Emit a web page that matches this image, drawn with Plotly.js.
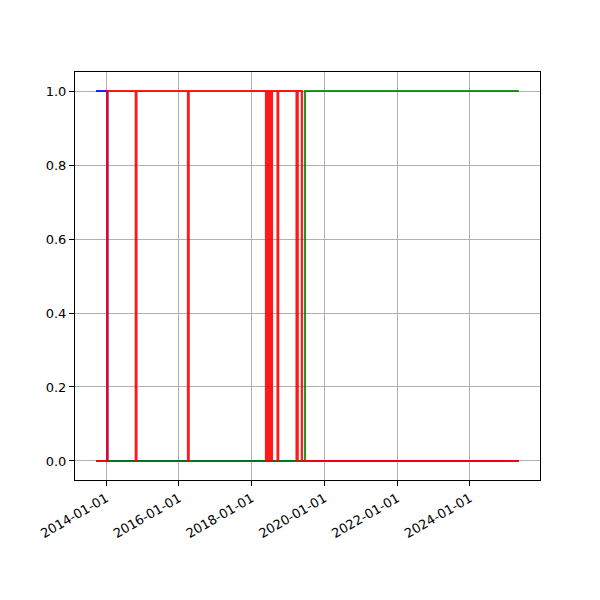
<!DOCTYPE html>
<html>
<head>
<meta charset="utf-8">
<script src="https://cdn.plot.ly/plotly-3.0.1.min.js"></script>
<style>html,body{margin:0;padding:0;background:#fff;}#chart{width:600px;height:600px;}</style>
</head>
<body>
<div id="chart"></div>
<script>
// Change-point dates (values hold until the next date)
const dates = [
  "2013-09-22", "2014-01-14",
  "2014-10-26", "2014-11-02",
  "2016-04-02", "2016-04-09",
  "2018-05-25", "2018-06-01", "2018-06-08", "2018-06-15", "2018-06-22", "2018-06-29",
  "2018-07-06", "2018-07-13", "2018-07-18", "2018-07-24",
  "2018-09-18", "2018-09-24",
  "2019-03-28", "2019-04-08",
  "2019-05-20", "2019-06-20",
  "2025-05-06"
];
const blueSeries  = [1,0, 0,0, 0,0, 0,0,0,0,0,0, 0,0,0,0, 0,0, 0,0, 0,0, 0];
const greenSeries = [0,0, 0,0, 0,0, 0,0,0,0,0,0, 0,0,0,0, 0,0, 0,0, 0,1, 1];
const redSeries   = [0,1, 0,1, 0,1, 0,1,0,1,0,1, 0,1,0,1, 0,1, 0,1, 0,0, 0];
const xTicks = ["2014-01-01","2016-01-01","2018-01-01","2020-01-01","2022-01-01","2024-01-01"];
const yTicks = [0, 0.2, 0.4, 0.6, 0.8, 1.0];

function tr(y, color, op) {
  return {x: dates, y: y, type: "scatter", mode: "lines",
          line: {color: color, width: 2.2, shape: "hv"}, opacity: op,
          hoverinfo: "skip", showlegend: false};
}
const data = [tr(blueSeries, "#0000ff", 0.85), tr(greenSeries, "#008000", 0.85), tr(redSeries, "#ff0000", 0.9)];

const axisCommon = {
  showline: true, mirror: true, linecolor: "#000", linewidth: 1,
  ticks: "outside", ticklen: 5, tickwidth: 1, tickcolor: "#000",
  showgrid: true, gridcolor: "#b0b0b0", gridwidth: 1, zeroline: false,
  tickfont: {family: "DejaVu Sans", size: 13, color: "#000"}
};
const layout = {
  width: 600, height: 600,
  margin: {l: 75, r: 60, t: 72, b: 120},
  paper_bgcolor: "#fff", plot_bgcolor: "#fff",
  xaxis: Object.assign({}, axisCommon, {
    type: "date", range: ["2013-02-23", "2025-12-04"],
    tickmode: "array", tickvals: xTicks, ticktext: xTicks, tickangle: -30
  }),
  yaxis: Object.assign({}, axisCommon, {
    range: [-0.0514, 1.0514], tickmode: "array", tickvals: yTicks,
    ticktext: yTicks.map(v => v.toFixed(1))
  })
};
Plotly.newPlot("chart", data, layout, {displayModeBar: false, staticPlot: true});
</script>
</body>
</html>
